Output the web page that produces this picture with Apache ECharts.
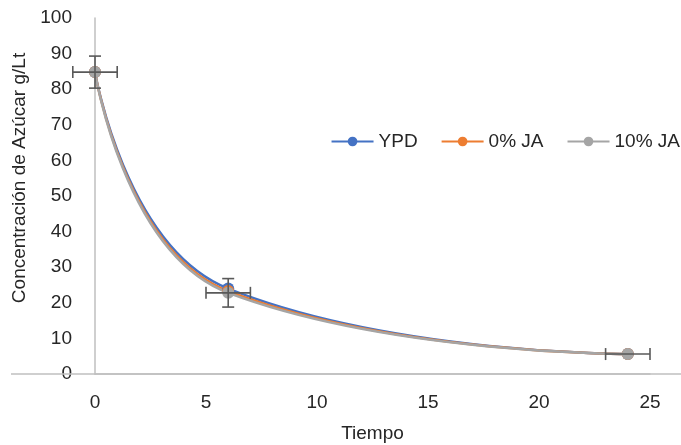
<!DOCTYPE html>
<html>
<head>
<meta charset="utf-8">
<script src="https://cdn.jsdelivr.net/npm/echarts@6/dist/echarts.min.js"></script>
<style>
  html, body { margin: 0; padding: 0; background: #fff; }
  #chart { width: 681px; height: 445px; }
</style>
</head>
<body>
<div id="chart"></div>
<script>
// data
var tiempo = [0, 6, 24];
var ypd = [84.8, 24.0, 5.6];
var ja0 = [84.8, 23.3, 5.6];
var ja10 = [84.8, 22.8, 5.6];
var errX = [1, 1, 1];
var errY = [4.5, 4, 0];
var seriesNames = ['YPD', '0% JA', '10% JA'];

var fontFam = "'Liberation Sans', Arial, sans-serif";

function pairs(ys) {
  return tiempo.map(function (t, i) { return [t, ys[i]]; });
}

var errData = tiempo.map(function (t, i) {
  return [t, ja10[i], errX[i], errY[i]];
});

function renderErr(params, api) {
  var x = api.value(0), y = api.value(1), ex = api.value(2), ey = api.value(3);
  var style = { stroke: '#595959', lineWidth: 1.6 };
  var kids = [];
  var l = api.coord([x - ex, y]), r = api.coord([x + ex, y]);
  kids.push({ type: 'line', shape: { x1: l[0], y1: l[1], x2: r[0], y2: r[1] }, style: style });
  kids.push({ type: 'line', shape: { x1: l[0], y1: l[1] - 6, x2: l[0], y2: l[1] + 6 }, style: style });
  kids.push({ type: 'line', shape: { x1: r[0], y1: r[1] - 6, x2: r[0], y2: r[1] + 6 }, style: style });
  if (ey > 0) {
    var t = api.coord([x, y + ey]), b = api.coord([x, y - ey]);
    kids.push({ type: 'line', shape: { x1: t[0], y1: t[1], x2: b[0], y2: b[1] }, style: style });
    kids.push({ type: 'line', shape: { x1: t[0] - 6, y1: t[1], x2: t[0] + 6, y2: t[1] }, style: style });
    kids.push({ type: 'line', shape: { x1: b[0] - 6, y1: b[1], x2: b[0] + 6, y2: b[1] }, style: style });
  }
  return { type: 'group', children: kids };
}

function lineSeries(name, ys, color) {
  return {
    name: name,
    type: 'line',
    data: pairs(ys),
    smooth: 0.5,
    symbol: 'circle',
    symbolSize: 12,
    lineStyle: { color: color, width: 2.5 },
    itemStyle: { color: color },
    z: 3
  };
}

var chart = echarts.init(document.getElementById('chart'));
var option = {
  animation: false,
  textStyle: { fontFamily: fontFam },
  grid: { left: 95, right: 31, top: 18, bottom: 71, outerBoundsMode: 'none' },
  legend: {
    data: seriesNames,
    right: 1,
    top: 132,
    padding: 0,
    itemWidth: 42,
    itemHeight: 12,
    itemGap: 23,
    textStyle: { fontSize: 19, color: '#262626', fontFamily: fontFam }
  },
  xAxis: {
    type: 'value',
    min: 0,
    max: 25,
    interval: 5,
    name: 'Tiempo',
    nameLocation: 'middle',
    nameGap: 50,
    nameTextStyle: { fontSize: 19, color: '#262626' },
    axisLine: { show: true, lineStyle: { color: '#bfbfbf', width: 1.5 } },
    axisTick: { show: false },
    splitLine: { show: false },
    axisLabel: { fontSize: 19, color: '#262626', margin: 19 }
  },
  yAxis: {
    type: 'value',
    min: 0,
    max: 100,
    interval: 10,
    name: 'Concentración de Azúcar g/Lt',
    nameLocation: 'middle',
    nameGap: 61,
    nameTextStyle: { fontSize: 19, color: '#262626', padding: [0, 0, 0, 36] },
    axisLine: { show: true, lineStyle: { color: '#bfbfbf', width: 1.5 } },
    axisTick: { show: false },
    splitLine: { show: false },
    axisLabel: { fontSize: 19, color: '#262626', margin: 23 }
  },
  series: [
    lineSeries(seriesNames[0], ypd, '#4472C4'),
    lineSeries(seriesNames[1], ja0, '#ED7D31'),
    lineSeries(seriesNames[2], ja10, '#A5A5A5'),
    {
      type: 'custom',
      renderItem: renderErr,
      data: errData,
      encode: { x: 0, y: 1 },
      z: 4,
      silent: true
    }
  ]
};
chart.setOption(option);

// the x axis line in the original runs past both ends of the plot
var p0 = chart.convertToPixel({ gridIndex: 0 }, [0, 0]);
chart.setOption({
  graphic: [{
    type: 'line',
    shape: { x1: 11, y1: p0[1], x2: 681, y2: p0[1] },
    style: { stroke: '#bfbfbf', lineWidth: 1.5 },
    z: 1
  }]
});
</script>
</body>
</html>
